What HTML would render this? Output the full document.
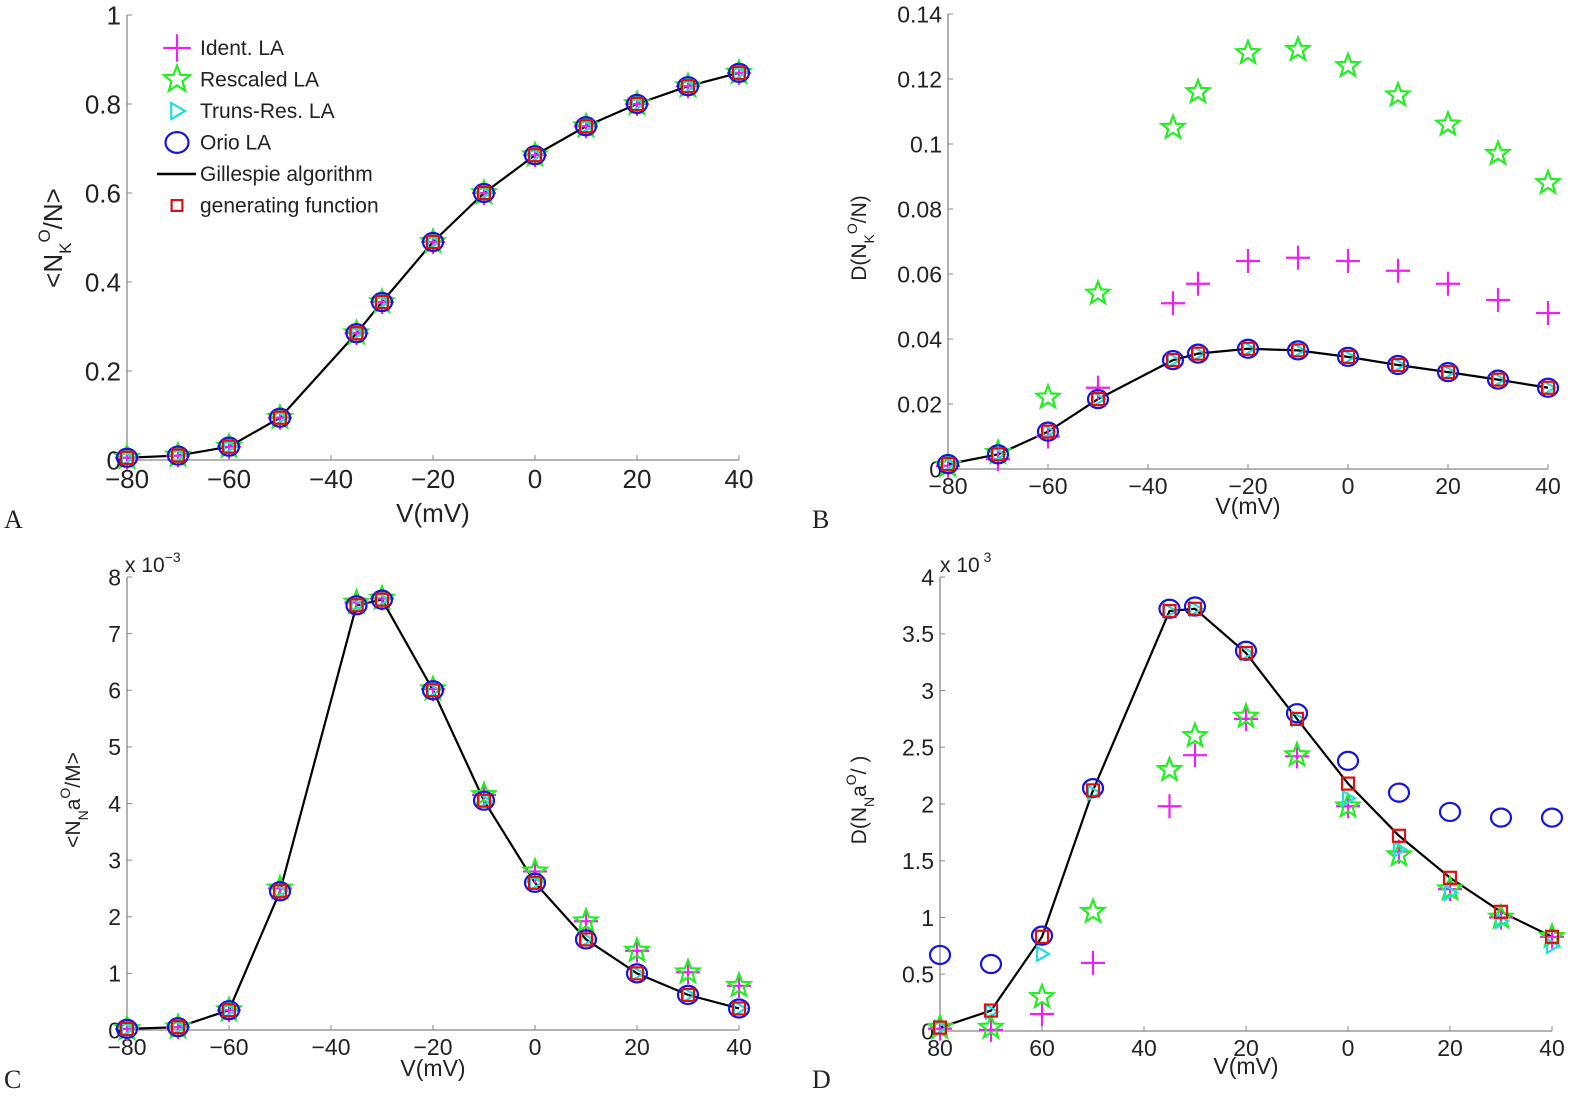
<!DOCTYPE html>
<html><head><meta charset="utf-8"><style>
body{margin:0;background:#fff;}
svg{display:block;font-family:"Liberation Sans",sans-serif;}
</style></head><body>
<svg id="fig" width="1575" height="1100" viewBox="0 0 1575 1100"></svg>
<script>
const voltages=[-80,-70,-60,-50,-35,-30,-20,-10,0,10,20,30,40];
// Panel A
const aLine=[0.005,0.01,0.03,0.095,0.285,0.355,0.49,0.6,0.685,0.75,0.8,0.84,0.87];
// Panel B
const bLine=[0.0015,0.0045,0.0115,0.0215,0.0335,0.0355,0.037,0.0365,0.0345,0.032,0.0298,0.0275,0.025];
const bIdent=[0.001,0.003,0.01,0.025,0.051,0.057,0.064,0.065,0.064,0.061,0.057,0.052,0.048];
const bResc=[0.001,0.005,0.022,0.054,0.105,0.116,0.128,0.129,0.124,0.115,0.106,0.097,0.088];
// Panel C (x1e-3)
const cLine=[0.02,0.05,0.35,2.45,7.5,7.6,6.0,4.05,2.6,1.6,1.0,0.62,0.38];
const cIdent=[0.02,0.05,0.35,2.5,7.55,7.62,6.02,4.15,2.8,1.92,1.4,1.02,0.78];
// Panel D (x1e3)
const dLine=[0.03,0.18,0.83,2.12,3.7,3.72,3.33,2.75,2.18,1.72,1.35,1.05,0.83];
const dOrio=[0.67,0.59,0.84,2.14,3.72,3.74,3.35,2.8,2.38,2.1,1.93,1.88,1.88];
const dIdent=[0.02,0.01,0.15,0.6,1.98,2.43,2.75,2.42,1.98,1.58,1.25,1.0,0.83];
const dResc=[0.03,0.03,0.3,1.05,2.3,2.6,2.77,2.43,1.98,1.55,1.25,1.0,0.83];
const dTruns=[0.03,0.17,0.68,2.1,3.7,3.72,3.33,2.75,2.05,1.6,1.22,0.97,0.75];
const xTicks=[-80,-60,-40,-20,0,20,40];
const xTickLabelsD=["80","60","40","20","0","20","40"];
const aYTicks=[0,0.2,0.4,0.6,0.8,1];
const bYTicks=[0,0.02,0.04,0.06,0.08,0.1,0.12,0.14];
const cYTicks=[0,1,2,3,4,5,6,7,8];
const dYTicks=[0,0.5,1,1.5,2,2.5,3,3.5,4];

const NS="http://www.w3.org/2000/svg";
const svg=document.getElementById('fig');
function el(tag,attrs,parent,text){const e=document.createElementNS(NS,tag);for(const k in attrs)e.setAttribute(k,attrs[k]);if(text!==undefined)e.textContent=text;(parent||svg).appendChild(e);return e;}

function makeAxes(o){
  const g=el('g',{});
  
  
  const sx=v=>o.x0+(v-o.xmin)/(o.xmax-o.xmin)*(o.x1-o.x0);
  const sy=v=>o.y0-(v-o.ymin)/(o.ymax-o.ymin)*(o.y0-o.y1);
  const ax=el('path',{d:`M${o.x0},${o.y1}V${o.y0}H${o.x1}`,stroke:'#888',fill:'none','stroke-width':1.3},g);
  
  
  o.xticks.forEach((t,i)=>{
    const x=sx(t);
    el('line',{x1:x,x2:x,y1:o.y0,y2:o.y0-5,stroke:'#888'},g);
    const tl=el('text',{x:x,y:o.y0+o.fs+2,'font-size':o.fs,'text-anchor':'middle',fill:'#222'},g,o.xlabels?o.xlabels[i]:(t<0?'\u2212'+(-t):String(t)));
    
    
  });
  o.yticks.forEach(t=>{
    const y=sy(t);
    el('line',{x1:o.x0,x2:o.x0+5,y1:y,y2:y,stroke:'#888'},g);
    const tl=el('text',{x:o.x0-6,y:y+o.fs*0.36,'font-size':o.fs,'text-anchor':'end',fill:'#222'},g,String(t));
    
    
  });
  const xl=el('text',{x:(o.x0+o.x1)/2,y:o.xly,'font-size':o.fs,'text-anchor':'middle',fill:'#222'},g,'V(mV)');
  
  
  return {g,sx,sy};
}
function line(ax,vals,name){
  const p=el('polyline',{points:voltages.map((v,i)=>ax.sx(v)+','+ax.sy(vals[i])).join(' '),fill:'none',stroke:'#000','stroke-width':2.2},ax.g);
  
  
}
function star(cx,cy,r,g){
  let pts=[];for(let k=0;k<10;k++){const a=-Math.PI/2+k*Math.PI/5;const rr=k%2?r*0.42:r;pts.push((cx+rr*Math.cos(a)).toFixed(1)+','+(cy+rr*Math.sin(a)).toFixed(1));}
  return el('polygon',{points:pts.join(' '),fill:'none',stroke:'#22ee22','stroke-width':2.2},g);
}
function marker(type,cx,cy,g,s){
  s=s||1;let m;
  if(type==='plus'){m=el('path',{d:`M${cx-12*s},${cy}H${cx+12*s}M${cx},${cy-12*s}V${cy+12*s}`,stroke:'#ee22ee','stroke-width':2.2},g);}
  else if(type==='star'){m=star(cx,cy,12*s,g);}
  else if(type==='tri'){m=el('polygon',{points:`${cx-5*s},${cy-7*s} ${cx+7*s},${cy} ${cx-5*s},${cy+7*s}`,fill:'none',stroke:'#22dddd','stroke-width':2.2},g);}
  else if(type==='circ'){m=el('ellipse',{cx,cy,rx:10*s,ry:9*s,fill:'none',stroke:'#1515dd','stroke-width':2.2},g);}
  else {m=el('rect',{x:cx-6*s,y:cy-6*s,width:12*s,height:12*s,fill:'none',stroke:'#dd1111','stroke-width':2.2},g);}
  return m;
}
function series(ax,vals,type,name){
  voltages.forEach((v,i)=>{
    const m=marker(type,ax.sx(v),ax.sy(vals[i]),ax.g);
    
    
  });
}
function ylabel(x,y,fs,html,name){
  const t=el('text',{transform:`translate(${x},${y}) rotate(-90)`,'font-size':fs,'text-anchor':'middle',fill:'#222'});
  t.innerHTML=html;
  
  
}
function plabel(x,y,s){const t=el('text',{x,y,'font-size':26,'font-family':'Liberation Serif',fill:'#222'},svg,s);
  
  }

// A
const A=makeAxes({name:'panel-a',x0:127,x1:739,y0:460,y1:15,xmin:-80,xmax:40,ymin:0,ymax:1,xticks:xTicks,yticks:aYTicks,fs:26,xly:522});
line(A,aLine,'gillespie-line');
series(A,aLine,'plus','ident-la-point');series(A,aLine,'star','rescaled-la-point');series(A,aLine,'tri','truns-res-la-point');series(A,aLine,'circ','orio-la-point');series(A,aLine,'sq','generating-function-point');
ylabel(62,238,26,'&lt;N<tspan font-size="17" dy="9">K</tspan><tspan font-size="17" dy="-21">O</tspan><tspan dy="12">/N&gt;</tspan>','y-axis-title');
// legend
const leg=el('g',{});
const legItems=[['plus','Ident. LA'],['star','Rescaled LA'],['tri','Truns-Res. LA'],['circ','Orio LA'],['line','Gillespie algorithm'],['sq','generating function']];
legItems.forEach((it,i)=>{
  const y=48+i*31.5;let m;
  if(it[0]==='line'){m=el('line',{x1:157,x2:196,y1:y,y2:y,stroke:'#000','stroke-width':2.5},leg);}
  else m=marker(it[0],177,y,leg,it[0]==='sq'?0.9:1.15);
  
  const t=el('text',{x:200,y:y+7,'font-size':21,fill:'#222'},leg,it[1]);
  
});
// B
const B=makeAxes({name:'panel-b',x0:948,x1:1548,y0:469,y1:14,xmin:-80,xmax:40,ymin:0,ymax:0.14,xticks:xTicks,yticks:bYTicks,fs:23,xly:514});
line(B,bLine,'gillespie-line');
series(B,bIdent,'plus','ident-la-point');series(B,bResc,'star','rescaled-la-point');series(B,bLine,'tri','truns-res-la-point');series(B,bLine,'circ','orio-la-point');series(B,bLine,'sq','generating-function-point');
ylabel(866,238,21,'D(N<tspan font-size="14" dy="8">K</tspan><tspan font-size="14" dy="-17">O</tspan><tspan dy="9">/N)</tspan>','y-axis-title');
// C
const C=makeAxes({name:'panel-c',x0:127,x1:739,y0:1030,y1:577,xmin:-80,xmax:40,ymin:0,ymax:8,xticks:xTicks,yticks:cYTicks,fs:23,xly:1076});
line(C,cLine,'gillespie-line');
series(C,cIdent,'plus','ident-la-point');series(C,cIdent,'star','rescaled-la-point');series(C,cLine,'tri','truns-res-la-point');series(C,cLine,'circ','orio-la-point');series(C,cLine,'sq','generating-function-point');
el('text',{x:125,y:572,'font-size':21,fill:'#222'},svg,'x 10').innerHTML='x 10<tspan font-size="14" dy="-10">\u22123</tspan>';
ylabel(80,800,21,'&lt;N<tspan font-size="14" dy="8">N</tspan><tspan dy="-8">a</tspan><tspan font-size="14" dy="-10">O</tspan><tspan dy="10">/M&gt;</tspan>','y-axis-title');
// D
const D=makeAxes({name:'panel-d',x0:940,x1:1552,y0:1031,y1:577,xmin:-80,xmax:40,ymin:0,ymax:4,xticks:xTicks,xlabels:xTickLabelsD,yticks:dYTicks,fs:23,xly:1074});
line(D,dLine,'gillespie-line');
series(D,dIdent,'plus','ident-la-point');series(D,dResc,'star','rescaled-la-point');series(D,dTruns,'tri','truns-res-la-point');series(D,dOrio,'circ','orio-la-point');series(D,dLine,'sq','generating-function-point');
el('text',{x:940,y:572,'font-size':21,fill:'#222'},svg,'').innerHTML='x 10<tspan font-size="14" dy="-10"> 3</tspan>';
ylabel(866,800,21,'D(N<tspan font-size="14" dy="8">N</tspan><tspan dy="-8">a</tspan><tspan font-size="14" dy="-10">O</tspan><tspan dy="10">/ )</tspan>','y-axis-title');
plabel(4,528,'A');plabel(812,528,'B');plabel(4,1088,'C');plabel(812,1088,'D');
</script>
</body></html>
